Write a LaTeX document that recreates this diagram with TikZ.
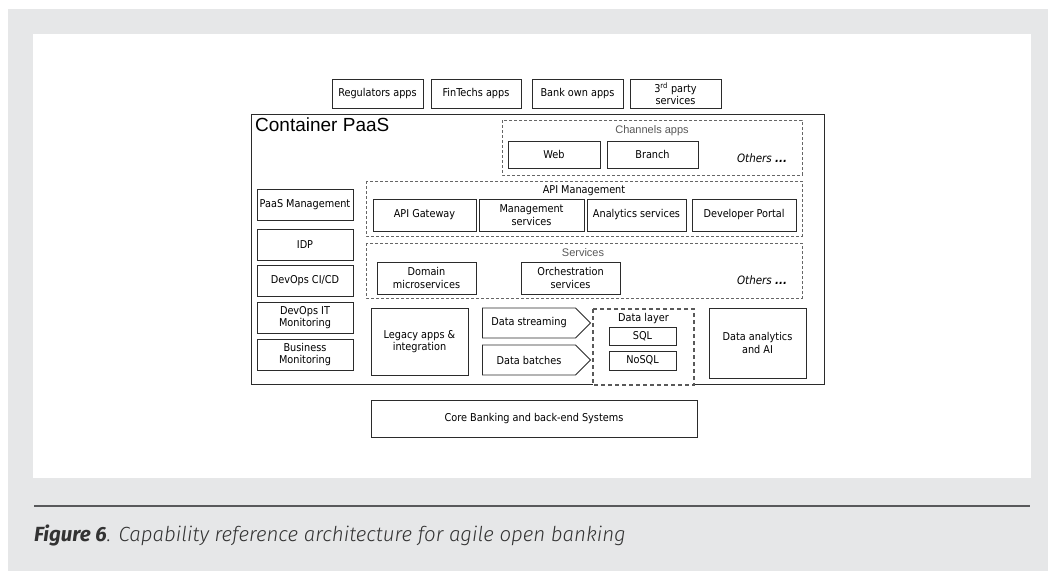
\documentclass[tikz,border=0pt]{standalone}
\usepackage{fontspec}
\setmainfont{DejaVu Sans Condensed}
\newfontfamily\paasfont{Liberation Sans}
\newfontfamily\capfont{Fira Sans Light Italic}
\newfontfamily\capboldfont{Fira Sans Bold Italic}
\usetikzlibrary{shapes.symbols}
\definecolor{pagegray}{HTML}{E6E7E8}
\definecolor{rulegray}{HTML}{58595B}
\definecolor{linegray}{HTML}{2B2B2B}
\tikzset{
  box/.style      = {rectangle, draw=linegray, line width=0.8pt, fill=white, align=center,
                     inner sep=1pt, font=\fontsize{10.8}{12.5}\selectfont},
  flow/.style     = {box, signal, signal to=east, signal pointer angle=90},
  group/.style    = {draw=black!60, line width=0.7pt, dash pattern=on 3pt off 2pt},
  layer/.style    = {draw=black!65, line width=1.3pt, dash pattern=on 4pt off 3pt, fill=white},
  glab/.style     = {font=\fontsize{10.8}{12.5}\selectfont, inner sep=1pt},
  lightlab/.style = {font=\paasfont\fontsize{11}{13}\selectfont, text=black!65, inner sep=1pt},
  otherlab/.style = {font=\fontsize{11.5}{13}\selectfont\itshape, inner sep=1pt},
}
\begin{document}
\begin{tikzpicture}[x=1pt, y=-1pt]
  % page and panel
  \fill[white] (0,0) rectangle (1048,571);
  \fill[pagegray] (8,9) rectangle (1048,571);
  \fill[white] (33,34) rectangle (1031,478);

  % consumers on top
  \node[box, minimum width=91pt, minimum height=29pt] (reg) at (377.5,93.5) {Regulators apps};
  \node[box, minimum width=90pt, minimum height=29pt] (fin) at (476,93.5) {FinTechs apps};
  \node[box, minimum width=91pt, minimum height=29pt] (bank) at (577.5,93.5) {Bank own apps};
  \node[box, minimum width=91pt, minimum height=29pt, font=\fontsize{10.8}{11.5}\selectfont] (third) at (675.5,93.5)
    {3\textsuperscript{rd} party\\services};

  % the container platform
  \draw[linegray, line width=0.8pt] (251,114) rectangle (824,384);
  \node[anchor=north west, font=\paasfont\fontsize{19}{22}\selectfont, inner sep=0pt] (paas) at (255,118)
    {Container PaaS};

  % channels
  \draw[group] (502,120) rectangle (802,175);
  \node[lightlab] (chan) at (652,131) {Channels apps};
  \node[box, minimum width=92pt, minimum height=27pt] (web) at (554,154.5) {Web};
  \node[box, minimum width=91pt, minimum height=27pt] (branch) at (652.5,154.5) {Branch};
  \node[otherlab] (oth1) at (762,158) {Others \textbf{...}};

  % API management
  \draw[group] (366,181) rectangle (802,236);
  \node[glab] (apim) at (584,191) {API Management};
  \node[box, minimum width=103pt, minimum height=32pt] (gw) at (424.5,215) {API Gateway};
  \node[box, minimum width=105pt, minimum height=32pt] (mgmt) at (531.5,215) {Management\\services};
  \node[box, minimum width=99pt, minimum height=32pt] (anl) at (636.5,215) {Analytics services};
  \node[box, minimum width=104pt, minimum height=32pt] (dev) at (744,215) {Developer Portal};

  % services
  \draw[group] (366,243) rectangle (802,298);
  \node[lightlab] (svc) at (583,253) {Services};
  \node[box, minimum width=99pt, minimum height=32pt] (dom) at (426.5,278) {Domain\\microservices};
  \node[box, minimum width=99pt, minimum height=32pt] (orch) at (570.5,278) {Orchestration\\services};
  \node[otherlab] (oth2) at (762,280) {Others \textbf{...}};

  % platform tools, left column
  \node[box, minimum width=96pt, minimum height=31pt] (pmgmt) at (305,204.5) {PaaS Management};
  \node[box, minimum width=96pt, minimum height=31pt] (idp) at (305,244.5) {IDP};
  \node[box, minimum width=96pt, minimum height=31pt] (cicd) at (305,280.5) {DevOps CI/CD};
  \node[box, minimum width=96pt, minimum height=31pt, font=\fontsize{10.8}{11.5}\selectfont] (itmon) at (305,317.5)
    {DevOps IT\\Monitoring};
  \node[box, minimum width=96pt, minimum height=31pt, font=\fontsize{10.8}{11.5}\selectfont] (bizmon) at (305,354.5)
    {Business\\Monitoring};

  % data
  \node[box, minimum width=97pt, minimum height=67pt] (legacy) at (419.5,341.5) {Legacy apps \&\\integration};
  \node[flow, minimum width=108pt, minimum height=30pt] (stream) at (529,323) {Data streaming};
  \node[flow, minimum width=108pt, minimum height=30pt] (batch) at (529,360) {Data batches};
  \draw[layer] (593,309) rectangle (694,385);
  \node[glab] (dlayer) at (643.5,319) {Data layer};
  \node[box, minimum width=67pt, minimum height=18pt] (sql) at (642.5,336) {SQL};
  \node[box, minimum width=67pt, minimum height=19pt] (nosql) at (642.5,360.5) {NoSQL};
  \node[box, minimum width=97pt, minimum height=70pt] (ai) at (757.5,343) {Data analytics\\and AI};

  % back end
  \node[box, minimum width=326pt, minimum height=37pt] (core) at (534,418.5) {Core Banking and back-end Systems};

  % caption
  \draw[rulegray, line width=2pt] (34,506) -- (1030,506);
  \node[anchor=base west, inner sep=0pt, text=black!80, font=\fontsize{20.5}{24}\selectfont] (cap) at (34,541)
    {{\capboldfont Figure 6}{\capfont . Capability reference architecture for agile open banking}};
\end{tikzpicture}
\end{document}
